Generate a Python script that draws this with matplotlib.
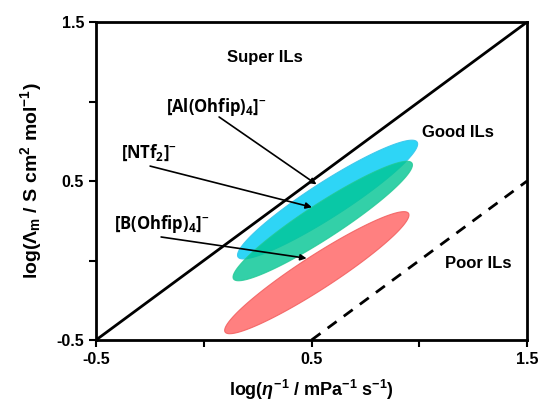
import numpy as np
import matplotlib.pyplot as plt
from matplotlib.patches import Polygon

plt.rcParams['font.family'] = ['Liberation Sans', 'DejaVu Sans']
plt.rcParams['mathtext.fontset'] = 'custom'
plt.rcParams['mathtext.rm'] = 'Liberation Sans:bold'
plt.rcParams['mathtext.it'] = 'Liberation Sans:bold:italic'
plt.rcParams['mathtext.bf'] = 'Liberation Sans:bold'
plt.rcParams['mathtext.default'] = 'regular'

# Walden lines
ideal_x = [-0.5, 1.5]
ideal_y = [-0.5, 1.5]
poor_x = [0.5, 1.5]
poor_y = [-0.5, 0.5]

# anion regions: lower-left tip, upper-right tip, vertical half thickness
ll_x = [0.159, 0.138, 0.099]
ll_y = [0.022, -0.116, -0.450]
ur_x = [0.990, 0.966, 0.950]
ur_y = [0.745, 0.613, 0.297]
half_h = [0.2, 0.195, 0.19]
fill_colors = ['#22d3f6', '#00c592', '#ff6e6e']
edge_colors = ['#3cc8ec', '#22c994', '#f26060']
alphas = [0.95, 0.8, 0.88]

# labels and arrows (text pos, arrow start, arrow tip)
anion_labels = [r'[Al(Ohfip)$_4$]$^{-}$', r'[NTf$_2$]$^{-}$', r'[B(Ohfip)$_4$]$^{-}$']
label_x = [0.057, -0.254, -0.194]
label_y = [0.965, 0.676, 0.23]
arrow_x0 = [0.071, -0.249, -0.198]
arrow_y0 = [0.903, 0.594, 0.148]
arrow_x1 = [0.523, 0.502, 0.477]
arrow_y1 = [0.479, 0.335, 0.014]

region_names = ['Super ILs', 'Good ILs', 'Poor ILs']
region_x = [0.284, 1.18, 1.273]
region_y = [1.28, 0.808, -0.016]

fig = plt.figure(figsize=(5.41, 4.05), dpi=100)
ax = fig.add_axes([0.1775, 0.1605, 0.7967, 0.785])
ax.set_xlim(-0.5, 1.5)
ax.set_ylim(-0.5, 1.5)

# pixel scale per data unit, so the ellipses are built in screen space
pos = ax.get_position()
kx = pos.width * fig.get_figwidth() * fig.dpi / 2.0
ky = pos.height * fig.get_figheight() * fig.dpi / 2.0

t = np.linspace(0, 2 * np.pi, 200)
for i in range(3):
    cx = (ll_x[i] + ur_x[i]) / 2
    cy = (ll_y[i] + ur_y[i]) / 2
    ux = (ur_x[i] - ll_x[i]) / 2 * kx
    uy = (ur_y[i] - ll_y[i]) / 2 * ky
    a = np.hypot(ux, uy)
    ex, ey = ux / a, uy / a
    h = half_h[i] * ky
    b = h * a * abs(ey) / np.sqrt(a ** 2 - (h * ex) ** 2)
    px = a * np.cos(t) * ex - b * np.sin(t) * ey
    py = a * np.cos(t) * ey + b * np.sin(t) * ex
    pts = np.column_stack([cx + px / kx, cy + py / ky])
    ax.add_patch(Polygon(pts, closed=True, facecolor=fill_colors[i],
                         edgecolor=edge_colors[i], lw=0.8, alpha=alphas[i], zorder=2))

ax.plot(ideal_x, ideal_y, color='black', lw=2, zorder=3)
ax.plot(poor_x, poor_y, color='black', lw=2, ls=(0, (4, 3.2)), zorder=3)

for i in range(3):
    ax.annotate('', xy=(arrow_x1[i], arrow_y1[i]), xytext=(arrow_x0[i], arrow_y0[i]),
                arrowprops=dict(arrowstyle='-|>', color='black', lw=1.2,
                                mutation_scale=9, shrinkA=0, shrinkB=0), zorder=4)
    ax.text(label_x[i], label_y[i], anion_labels[i], ha='center', va='center',
            fontsize=12, fontweight='bold', family=['Open Sans', 'DejaVu Sans'], zorder=5)

for i in range(3):
    ax.text(region_x[i], region_y[i], region_names[i], ha='center', va='center',
            fontsize=12, fontweight='bold', zorder=5)

ax.set_xticks([-0.5, 0, 0.5, 1.0, 1.5])
ax.set_xticklabels(['-0.5', '', '0.5', '', '1.5'])
ax.set_yticks([-0.5, 0, 0.5, 1.0, 1.5])
ax.set_yticklabels(['-0.5', '', '0.5', '', '1.5'])
ax.tick_params(direction='out', length=5, width=1.5, labelsize=11.5)
for lab in ax.get_xticklabels() + ax.get_yticklabels():
    lab.set_fontweight('bold')
for sp in ax.spines.values():
    sp.set_linewidth(2)

ax.set_xlabel(r'log($\mathit{\eta}^{-1}$ / mPa$^{-1}$ s$^{-1}$)', fontsize=13,
              fontweight='bold', labelpad=8)
ax.set_ylabel(r'log($\mathit{\Lambda}_{m}$ / S cm$^{2}$ mol$^{-1}$)', fontsize=14,
              fontweight='bold', labelpad=9)

fig.savefig('out.png', dpi=100)
